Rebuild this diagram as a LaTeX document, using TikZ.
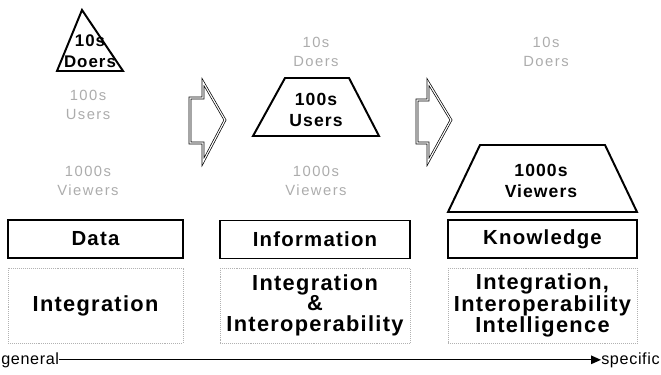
\documentclass[tikz,border=0pt]{standalone}
\usepackage{fontspec}
\setmainfont{Liberation Sans}
\newfontfamily\lsfont[LetterSpace=10]{Liberation Sans}
\newfontfamily\boxfont[LetterSpace=6]{Liberation Sans}
\newfontfamily\axfont[LetterSpace=4]{Liberation Sans}
\usetikzlibrary{arrows.meta, positioning}

\begin{document}
\begin{tikzpicture}[x=0.025cm, y=-0.025cm,
    faint/.style={text=gray!65, font=\lsfont\fontsize{10.5}{13.5}\selectfont, align=center},
    inshape/.style={font=\boxfont\bfseries\fontsize{12}{14.5}\selectfont, align=center, inner sep=0pt},
    outline/.style={line width=1.4pt, line join=miter},
    levelbox/.style={draw, line width=1pt, minimum height=0.95cm, font=\boxfont\bfseries\fontsize{14.5}{16}\selectfont, inner sep=0pt},
    aimbox/.style={draw=gray!60, densely dotted, minimum height=1.875cm, font=\boxfont\bfseries\fontsize{15.5}{15.5}\selectfont, align=center, inner sep=0pt},
    blockarrow/.style={draw, line width=0.5pt, double=white, double distance=0.8pt},
    axis/.style={-{Triangle[length=7pt, width=6pt]}, line width=0.8pt},
    axislabel/.style={font=\axfont\fontsize{11.5}{13}\selectfont, inner sep=0pt}]
  \useasboundingbox (0,0) rectangle (661,374);

  % pyramids
  \draw[outline] (82,10) -- (123,71) -- (57,71) -- cycle;
  \node[inshape] (doers1) at (90,51) {10s\\Doers};
  \node[faint] (users1) at (88,105) {100s\\Users};
  \node[faint] (viewers1) at (88,181) {1000s\\Viewers};

  \draw[outline] (285,78) -- (349,78) -- (379,136) -- (253,136) -- cycle;
  \node[faint] (doers2) at (316,52) {10s\\Doers};
  \node[inshape, font=\boxfont\bfseries\fontsize{12.5}{15}\selectfont] (users2) at (316,110) {100s\\Users};
  \node[faint] (viewers2) at (316,181) {1000s\\Viewers};

  \draw[outline] (480,145) -- (605,145) -- (637,212) -- (448,212) -- cycle;
  \node[faint] (doers3) at (546,52) {10s\\Doers};
  \node[inshape, font=\boxfont\bfseries\fontsize{12.5}{15}\selectfont] (viewers3) at (541,181) {1000s\\Viewers};

  % block arrows
  \draw[blockarrow] (190,98) -- (203,98) -- (203,82) -- (225,120) -- (203,162) -- (203,143) -- (190,143) -- cycle;
  \draw[blockarrow] (417,100) -- (428,100) -- (428,82) -- (451,120) -- (428,162) -- (428,143) -- (417,143) -- cycle;

  % levels
  \node[levelbox, minimum width=4.375cm] (data) at (95.5,239) {Data};
  \node[levelbox, minimum width=4.75cm] (info) at (315,239.5) {Information};
  \node[levelbox, minimum width=4.725cm] (know) at (542.5,239) {Knowledge};

  \node[aimbox, minimum width=4.375cm] (aim1) at (95.5,305.5) {Integration};
  \node[aimbox, minimum width=4.75cm] (aim2) at (315,305.5) {Integration\\[-1.5pt]\&\\Interoperability};
  \node[aimbox, minimum width=4.725cm] (aim3) at (542.5,305.5) {Integration,\\Interoperability\\Intelligence};

  % axis
  \node[axislabel, anchor=base west] (general) at (1,364) {general};
  \node[axislabel, anchor=base east] (specific) at (660,364) {specific};
  \draw[axis] (general.east) -- (specific.west);
\end{tikzpicture}
\end{document}
